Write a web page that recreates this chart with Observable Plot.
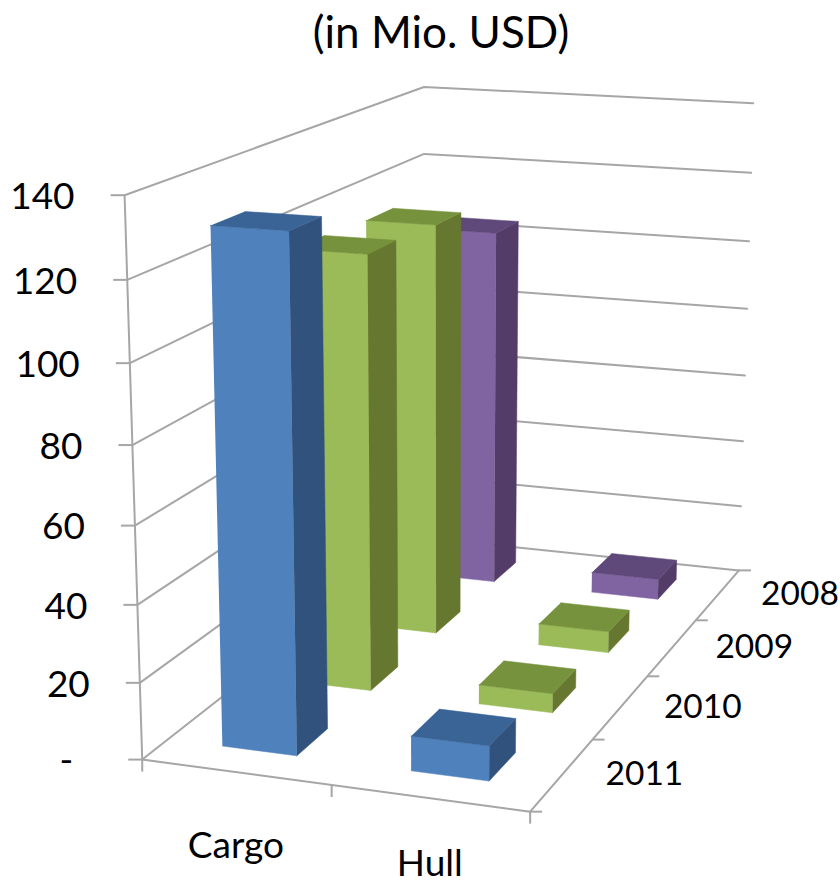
<!DOCTYPE html>
<html>
<head>
<meta charset="utf-8">
<script src="https://cdn.jsdelivr.net/npm/d3@7"></script>
<script src="https://cdn.jsdelivr.net/npm/@observablehq/plot@0.6"></script>
<style>
  html, body { margin: 0; padding: 0; background: #fff; }
  #title { height: 70px; width: 840px; box-sizing: border-box; padding-left: 42px; text-align: center;
           font: 44px/1 Lato, sans-serif; color: #000; padding-top: 9px; }
  svg { display: block; }
</style>
</head>
<body>
<div id="title">(in Mio. USD)</div>
<div id="chart"></div>
<script>
// ---- chart values, front row first
const categories = ["Cargo", "Hull"];
const years = ["2011", "2010", "2009", "2008"];
const cargo = [131.2, 116.5, 115.3, 104.3];
const hull = [9, 5.2, 6, 6];
const valueTicks = [0, 20, 40, 60, 80, 100, 120, 140];
const valueMax = 140;
const palette = {
  "2011": {front: "#4F81BD", side: "#30527D", top: "#3A6496"},
  "2010": {front: "#9BBB59", side: "#66782F", top: "#76923C"},
  "2009": {front: "#9BBB59", side: "#66782F", top: "#76923C"},
  "2008": {front: "#8064A2", side: "#543C68", top: "#5F497A"}
};
const gridColor = "#A6A6A6";

// ---- the 3D view of the chart box: a camera fitted to the box's visible corners
const calibration = [
  [0,0,0, 141,758],[1,0,0, 530,812],[1,1,0, 738,569],[0,1,0, 425,538.5],
  [0,0,1, 124.5,195],[0,1,1, 423,86],[1,1,1, 753,103]
];
function solve(A, b) {
  const n = b.length, M = A.map((r, i) => [...r, b[i]]);
  for (let c = 0; c < n; c++) {
    let p = c; for (let r = c + 1; r < n; r++) if (Math.abs(M[r][c]) > Math.abs(M[p][c])) p = r;
    [M[c], M[p]] = [M[p], M[c]];
    for (let r = 0; r < n; r++) if (r !== c) {
      const f = M[r][c] / M[c][c];
      for (let k = c; k <= n; k++) M[r][k] -= f * M[c][k];
    }
  }
  return M.map((r, i) => r[n] / r[i]);
}
const rows = [], rhs = [];
for (const [u, v, w, px, py] of calibration) {
  rows.push([u, v, w, 1, 0, 0, 0, 0, -px*u, -px*v, -px*w]); rhs.push(px);
  rows.push([0, 0, 0, 0, u, v, w, 1, -py*u, -py*v, -py*w]); rhs.push(py);
}
const AtA = d3.range(11).map(i => d3.range(11).map(j => d3.sum(rows, r => r[i]*r[j])));
const Atb = d3.range(11).map(i => d3.sum(rows, (r, k) => r[i]*rhs[k]));
const cam = solve(AtA, Atb);
function project(u, v, w) {
  const d = cam[8]*u + cam[9]*v + cam[10]*w + 1;
  return [(cam[0]*u + cam[1]*v + cam[2]*w + cam[3]) / d, (cam[4]*u + cam[5]*v + cam[6]*w + cam[7]) / d];
}

// ---- build faces
const barShare = 0.4; // Excel's default gap of 150% both ways
const barShiftU = -0.003;
const faces = [];
function addFace(id, color, pts) {
  for (const [u, v, w] of pts) {
    const [x, y] = project(u, v, w);
    faces.push({id, color, x, y});
  }
}
const drawOrder = [3, 2, 1, 0];
for (const r of drawOrder) {
  [cargo, hull].forEach((series, c) => {
    const bandU = 1 / categories.length, bandV = 1 / years.length;
    const u1 = (c + 0.5 - barShare/2) * bandU + barShiftU, u2 = (c + 0.5 + barShare/2) * bandU + barShiftU;
    const v1 = (r + 0.5 - barShare/2) * bandV, v2 = (r + 0.5 + barShare/2) * bandV;
    const h = series[r] / valueMax, col = palette[years[r]], key = years[r] + categories[c];
    addFace(key + "f", col.front, [[u1,v1,0],[u2,v1,0],[u2,v1,h],[u1,v1,h]]);
    addFace(key + "s", col.side, [[u2,v1,0],[u2,v2,0],[u2,v2,h],[u2,v1,h]]);
    addFace(key + "t", col.top, [[u1,v1,h],[u2,v1,h],[u2,v2,h],[u1,v2,h]]);
  });
}

// ---- gridlines on the walls and floor
const grid = [];
function addLine(id, pts) { pts.forEach(p => { const [x, y] = project(...p); grid.push({id, x, y}); }); }
valueTicks.forEach(t => {
  const w = t / valueMax;
  addLine("g" + t, [[0,0,w],[0,1,w],[1,1,w]]);
});
addLine("edge-left", [[0,0,0],[0,0,1]]);
addLine("edge-front", [[0,0,0],[1,0,0]]);
addLine("edge-right", [[1,0,0],[1,1,0]]);

// ---- tick marks
const ticks = [];
const tickLen = 14;
valueTicks.forEach(t => { const [x, y] = project(0,0,t/valueMax); ticks.push({x1:x, y1:y, x2:x-tickLen, y2:y}); });
d3.range(categories.length + 1).forEach(i => { const [x, y] = project(i/categories.length,0,0); ticks.push({x1:x, y1:y, x2:x, y2:y+tickLen-2}); });
d3.range(years.length + 1).forEach(i => { const [x, y] = project(1,i/years.length,0); ticks.push({x1:x, y1:y, x2:x+tickLen-2, y2:y}); });

// ---- labels
const valueLabels = valueTicks.map(t => {
  const [x, y] = project(0,0,t/valueMax);
  return {x, y, label: t === 0 ? "-\u00a0\u00a0" : String(t)};
});
const categoryOffset = [74, 66];
const categoryLabels = categories.map((c, i) => {
  const [x, y] = project((i+0.5)/categories.length,0,0);
  return {x, y: y + categoryOffset[i], label: c};
});
const yearLabels = years.map((yr, i) => {
  const [x, y] = project(1,(i+0.5)/years.length,0);
  return {x, y, label: yr};
});

const font = "Lato, sans-serif";
const plot = Plot.plot({
  width: 840, height: 817,
  margin: 0,
  x: {axis: null, domain: [0, 840], range: [0, 840]},
  y: {axis: null, domain: [70, 887], range: [0, 817]},
  color: {type: "identity"},
  style: {background: "transparent"},
  marks: [
    Plot.line(grid, {x: "x", y: "y", z: "id", stroke: gridColor, strokeWidth: 2, curve: "linear"}),
    Plot.link(ticks, {x1: "x1", y1: "y1", x2: "x2", y2: "y2", stroke: gridColor, strokeWidth: 2}),
    Plot.line(faces, {x: "x", y: "y", z: "id", fill: "color", stroke: "color", strokeWidth: 0.5, curve: "linear"}),
    Plot.text(valueLabels, {x: "x", y: "y", text: "label", textAnchor: "end", dx: -50, dy: 2, fontSize: 37, fontFamily: font, fill: "#000"}),
    Plot.text(categoryLabels, {x: "x", y: "y", text: "label", fontSize: 37, fontFamily: font, fill: "#000"}),
    Plot.text(yearLabels, {x: "x", y: "y", text: "label", dx: 82, fontSize: 33.5, fontFamily: font, fill: "#000"})
  ]
});
document.getElementById("chart").appendChild(plot);
</script>
</body>
</html>
